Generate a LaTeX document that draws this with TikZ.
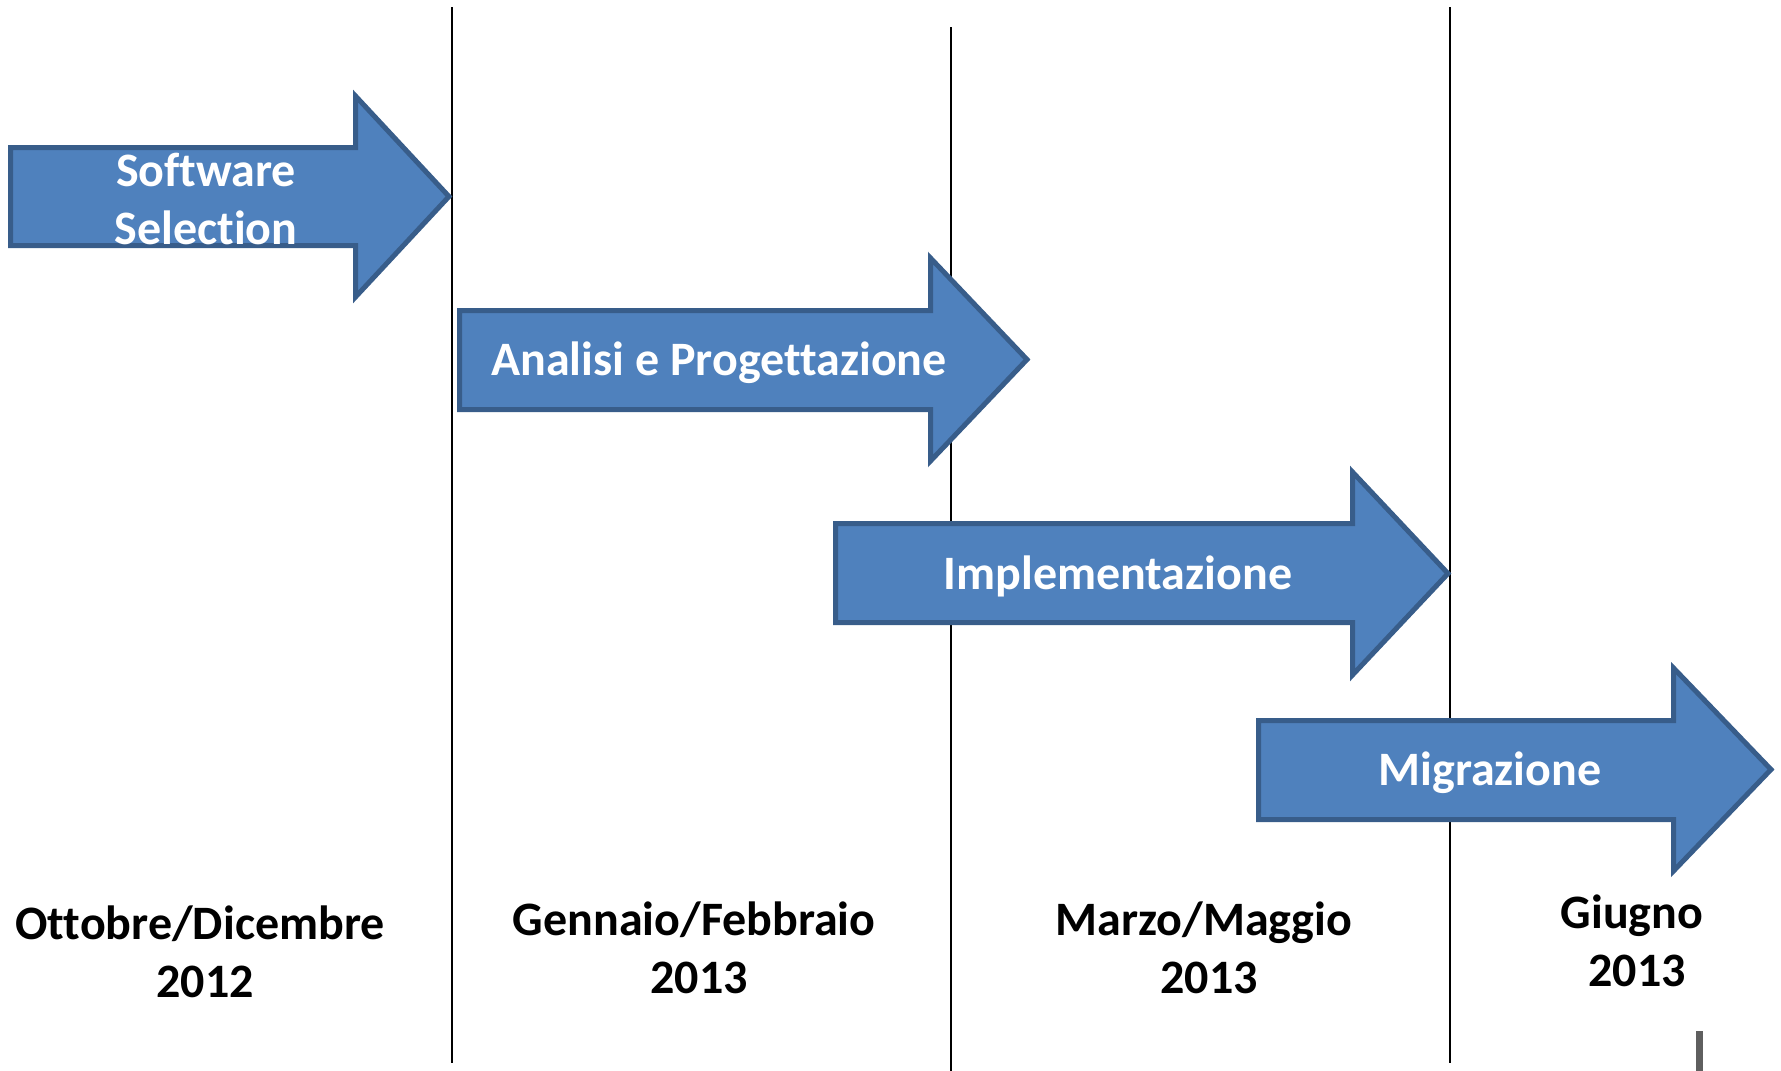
\documentclass[tikz,border=0pt]{standalone}
\usepackage{fontspec}
\setmainfont{Carlito}[RawFeature={-liga;-dlig;-clig}]
\definecolor{arrowfill}{HTML}{4F81BD}
\definecolor{arrowline}{HTML}{385D8A}
\definecolor{bargray}{HTML}{5F5F5F}
\tikzset{
  phasearrow/.style={fill=arrowfill, draw=arrowline, line width=5pt, line join=miter},
  phasetext/.style={text=white, font=\fontsize{48}{58}\selectfont\bfseries, align=center, inner sep=0pt},
  datetext/.style={text=black, font=\fontsize{48}{58}\selectfont\bfseries, align=center, inner sep=0pt},
  divider/.style={draw=black, line width=2pt}
}
\newcommand{\phasearrowpath}[7]{%
  \draw[phasearrow] (#1,#2) -- (#4,#2) -- (#4,#5) -- (#7,{(#5+#6)/2}) -- (#4,#6) -- (#4,#3) -- (#1,#3) -- cycle;}
\newcommand{\yearshift}{\hspace*{10pt}}
\begin{document}
\begin{tikzpicture}[x=1pt,y=-1pt]
\useasboundingbox (0,0) rectangle (1781,1071);
% dividers
\coordinate (l1t) at (452,7);   \coordinate (l1b) at (452,1063);
\coordinate (l2t) at (951,27);  \coordinate (l2b) at (951,1071);
\coordinate (l3t) at (1450,7);  \coordinate (l3b) at (1450,1063);
\draw[divider] (l1t) -- (l1b);
\draw[divider] (l2t) -- (l2b);
\draw[divider] (l3t) -- (l3b);
% arrows
\phasearrowpath{10.5}{147.5}{245.5}{355.5}{96}{297}{449}
\phasearrowpath{459.5}{310.5}{409.5}{930.5}{258}{461}{1027}
\phasearrowpath{835.5}{523.5}{622.5}{1352.5}{472}{675}{1448}
\phasearrowpath{1258.5}{720.5}{819.5}{1673.5}{668}{871}{1771}
% arrow labels
\node[phasetext] (sw) at (206,199) {Software\\Selection};
\node[phasetext] (ap) at (719,363) {Analisi e Progettazione};
\node[phasetext] (im) at (1118,576) {Implementazione};
\node[phasetext] (mi) at (1490,773) {Migrazione};
% dates
\node[datetext] (d1) at (200,952) {Ottobre/Dicembre\\\yearshift 2012};
\node[datetext] (d2) at (694,948) {Gennaio/Febbraio\\\yearshift 2013};
\node[datetext] (d3) at (1204,948) {Marzo/Maggio\\\yearshift 2013};
\node[datetext] (d4) at (1632,941) {Giugno\\\yearshift 2013};
% small gray bar
\fill[bargray] (1695.5,1031) rectangle (1703,1071);
\end{tikzpicture}
\end{document}
